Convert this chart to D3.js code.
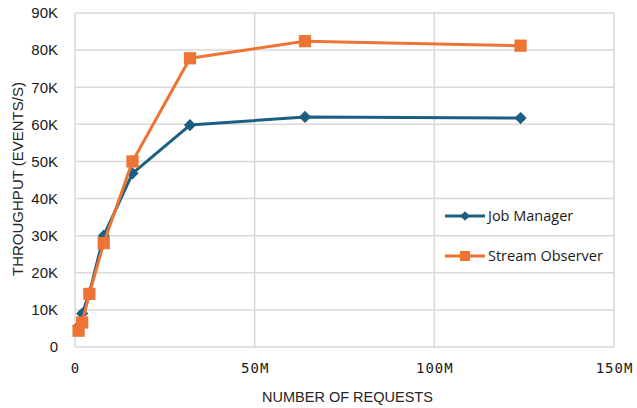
<!DOCTYPE html>
<html>
<head>
<meta charset="utf-8">
<script src="https://cdn.jsdelivr.net/npm/d3@7"></script>
<style>
  body { margin: 0; background: #fff; }
</style>
</head>
<body>
<div id="chart"></div>
<script>
// Data (requests in millions, throughput in events/s)
const requests = [1, 2, 4, 8, 16, 32, 64, 124];
const jobManager = [5500, 9000, 14500, 30000, 46800, 59800, 62000, 61700];
const streamObserver = [4400, 6600, 14300, 28000, 50000, 77800, 82400, 81200];
const seriesNames = ["Job Manager", "Stream Observer"];
const xTicks = [0, 50, 100, 150];
const yTicks = [0, 10000, 20000, 30000, 40000, 50000, 60000, 70000, 80000, 90000];

const W = 637, H = 408;
const margin = {top: 13, right: 23, bottom: 61, left: 75};
const width = W - margin.left - margin.right,
      height = H - margin.top - margin.bottom;

const svg = d3.select("#chart").append("svg")
    .attr("width", W)
    .attr("height", H)
  .append("g")
    .attr("transform", `translate(${margin.left}, ${margin.top})`);

const x = d3.scaleLinear().domain([0, 150]).range([0, width]);
const y = d3.scaleLinear().domain([0, 90000]).range([height, 0]);

const gridColor = "#d9d9d9";

// gridlines
svg.append("g").selectAll("line")
  .data(yTicks)
  .join("line")
    .attr("x1", 0).attr("x2", width)
    .attr("y1", d => y(d)).attr("y2", d => y(d))
    .attr("stroke", gridColor).attr("stroke-width", 1.5);
svg.append("g").selectAll("line")
  .data(xTicks)
  .join("line")
    .attr("x1", d => x(d)).attr("x2", d => x(d))
    .attr("y1", 0).attr("y2", height)
    .attr("stroke", gridColor).attr("stroke-width", 1.5);

// Y axis labels
const yAxis = svg.append("g")
  .call(d3.axisLeft(y).tickValues(yTicks).tickSize(0).tickPadding(17)
    .tickFormat(d => d === 0 ? "0" : (d / 1000) + "K"));
yAxis.select(".domain").remove();
yAxis.selectAll("text")
  .style("font-family", "'Liberation Sans', Arial, sans-serif")
  .style("font-size", "15px")
  .attr("fill", "#1a1a1a");

// X axis labels
const xAxis = svg.append("g")
  .attr("transform", `translate(0, ${height})`)
  .call(d3.axisBottom(x).tickValues(xTicks).tickSize(0).tickPadding(16)
    .tickFormat(d => d === 0 ? "0" : d + "M"));
xAxis.select(".domain").remove();
xAxis.selectAll("text")
  .style("font-family", "'DejaVu Sans Mono', monospace")
  .style("font-size", "14px")
  .style("letter-spacing", "1px")
  .attr("fill", "#1a1a1a");

// Axis titles
svg.append("text")
  .attr("x", width / 2 + 3)
  .attr("y", height + 55)
  .attr("text-anchor", "middle")
  .style("font-family", "'Liberation Sans', sans-serif")
  .style("font-size", "14.5px")
  .attr("fill", "#262626")
  .text("NUMBER OF REQUESTS");

svg.append("text")
  .attr("transform", "rotate(-90)")
  .attr("x", -(height / 2) + 1)
  .attr("y", -margin.left + 23)
  .attr("text-anchor", "middle")
  .style("font-family", "'Liberation Sans', sans-serif")
  .style("font-size", "15px")
  .attr("fill", "#262626")
  .text("THROUGHPUT (EVENTS/S)");

// Series
const colors = ["#1c5f83", "#ed7434"];
const seriesData = [jobManager, streamObserver];
const line = d3.line()
  .x(d => x(d[0]))
  .y(d => y(d[1]));

const diamond = d3.symbol().type(d3.symbolDiamond2).size(95);
const square = d3.symbol().type(d3.symbolSquare).size(150);
const shapes = [diamond, square];

seriesData.forEach((vals, i) => {
  const pts = requests.map((r, j) => [r, vals[j]]);
  svg.append("path")
    .datum(pts)
    .attr("fill", "none")
    .attr("stroke", colors[i])
    .attr("stroke-width", 3)
    .attr("stroke-linejoin", "round")
    .attr("d", line);
  svg.append("g").selectAll("path")
    .data(pts)
    .join("path")
      .attr("transform", d => `translate(${x(d[0])}, ${y(d[1])})`)
      .attr("d", shapes[i])
      .attr("fill", colors[i]);
});

// Legend
const legend = svg.append("g")
  .attr("transform", `translate(${370}, ${203})`);
seriesNames.forEach((name, i) => {
  const g = legend.append("g").attr("transform", `translate(0, ${i * 40})`);
  g.append("line")
    .attr("x1", 0).attr("x2", 40)
    .attr("stroke", colors[i]).attr("stroke-width", 3);
  g.append("path")
    .attr("transform", "translate(20, 0)")
    .attr("d", i === 0 ? d3.symbol().type(d3.symbolDiamond2).size(60)() : d3.symbol().type(d3.symbolSquare).size(100)())
    .attr("fill", colors[i]);
  g.append("text")
    .attr("x", 43)
    .attr("dy", "0.35em")
    .style("font-family", "'Open Sans', sans-serif")
    .style("font-size", "14.5px")
    .attr("fill", "#1a1a1a")
    .text(name);
});
</script>
</body>
</html>
